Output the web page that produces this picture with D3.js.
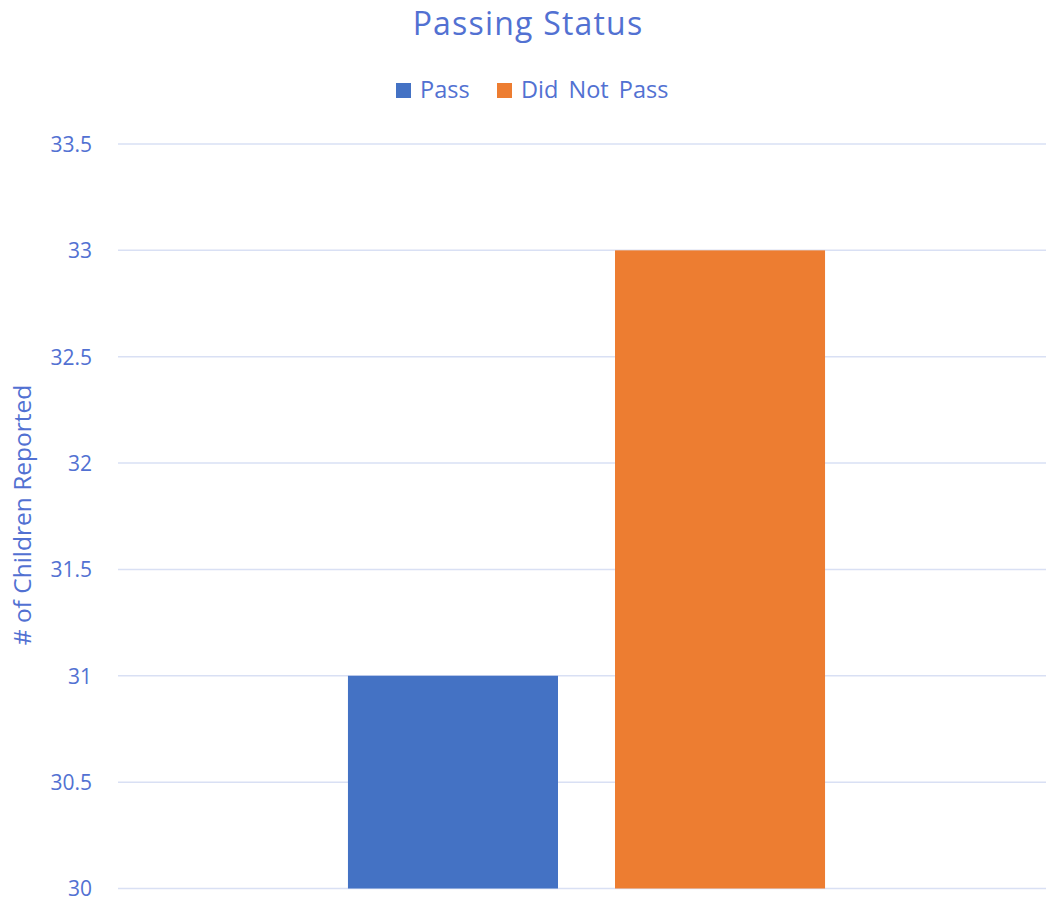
<!DOCTYPE html>
<html>
<head>
<meta charset="utf-8">
<script src="https://cdn.jsdelivr.net/npm/d3@7"></script>
<style>
  html, body { margin: 0; padding: 0; background: #fff; }
  svg { display: block; }
  text { font-family: "Open Sans", "Noto Sans", sans-serif; }
</style>
</head>
<body>
<svg id="chart" width="1046" height="902"></svg>
<script>
const categories = ["Passing Status"];
const seriesNames = ["Pass", "Did Not Pass"];
const passValues = [31];
const didNotPassValues = [33];
const yTicks = [30, 30.5, 31, 31.5, 32, 32.5, 33, 33.5];
const colors = ["#4472C4", "#ED7D31"];

const textColor = "#5271D2";
const gridColor = "#D9E0F4";

const svg = d3.select("#chart");
const W = 1046, H = 902;

const y = d3.scaleLinear().domain([30, 33.5]).range([888.5, 144]);
const x0 = d3.scaleBand().domain(categories).range([118, 1055]).paddingInner(0).paddingOuter(0.482);
const x1 = d3.scaleBand().domain(seriesNames).range([0, x0.bandwidth()]).paddingInner(0.2135).paddingOuter(0);

// grid
const gridG = svg.append("g");
gridG.selectAll("line").data(yTicks).enter().append("line")
  .attr("x1", 118).attr("x2", W)
  .attr("y1", d => y(d)).attr("y2", d => y(d))
  .attr("stroke", gridColor).attr("stroke-width", 1.5);

// y axis labels
const yAxis = d3.axisLeft(y).tickValues(yTicks).tickSize(0).tickPadding(0).tickFormat(d3.format("~g"));
const yg = svg.append("g").attr("transform", "translate(92,0)").call(yAxis);
yg.select(".domain").remove();
yg.selectAll("text").attr("fill", textColor).attr("font-size", 21)
  .attr("font-family", "'Open Sans', sans-serif").attr("dy", "0.35em");

// bars
const data = categories.map((c, i) => ({cat: c, values: [passValues[i], didNotPassValues[i]]}));
const catG = svg.selectAll("g.cat").data(data).enter().append("g")
  .attr("class", "cat")
  .attr("transform", d => `translate(${x0(d.cat)},0)`);
catG.selectAll("rect").data(d => d.values.map((v, j) => ({name: seriesNames[j], v, j})))
  .enter().append("rect")
  .attr("x", d => x1(d.name))
  .attr("width", x1.bandwidth())
  .attr("y", d => y(d.v))
  .attr("height", d => y(30) - y(d.v))
  .attr("fill", d => colors[d.j]);

// title
svg.append("text").attr("x", 528).attr("y", 35)
  .attr("text-anchor", "middle").attr("fill", textColor)
  .attr("font-size", 32).attr("letter-spacing", 1.2).text("Passing Status");

// legend
const legendItems = [
  {name: seriesNames[0], color: colors[0], x: 396},
  {name: seriesNames[1], color: colors[1], x: 497}
];
const lg = svg.append("g");
legendItems.forEach(it => {
  lg.append("rect").attr("x", it.x).attr("y", 83).attr("width", 15).attr("height", 15).attr("fill", it.color);
  lg.append("text").attr("x", it.x + 24).attr("y", 98).attr("fill", textColor)
    .attr("font-size", 23.5).attr("word-spacing", 4).text(it.name);
});

// y label
svg.append("text")
  .attr("transform", "translate(31,515) rotate(-90)")
  .attr("text-anchor", "middle").attr("fill", textColor)
  .attr("font-size", 24.5).text("# of Children Reported");
</script>
</body>
</html>
